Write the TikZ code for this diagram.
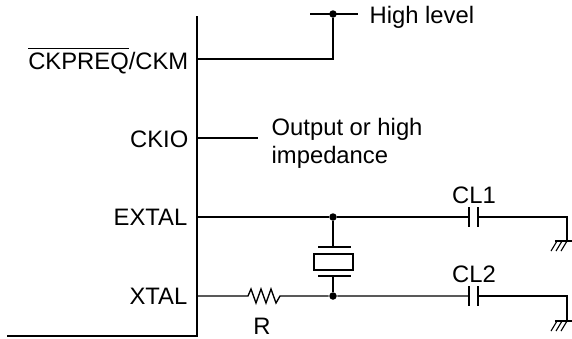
\documentclass[tikz,border=0pt]{standalone}
\usepackage{fontspec}
\setmainfont{Liberation Sans}
\newcommand\myovl[1]{\leavevmode\vbox{\hrule height 1.2pt\kern 3.6pt\hbox{#1}}}
\begin{document}
\begin{tikzpicture}[x=1pt,y=-1pt,line width=1.35pt,
  lbl/.style={font=\fontsize{23.8}{28}\selectfont,inner sep=0pt},
  jdot/.style={circle,fill,inner sep=0pt,minimum size=7.5pt},
  gndpic/.pic={
    \draw (-12,0) -- (5,0);
    \foreach \dx in {-10,-5,0} {\draw[line width=1.1pt] (\dx,0) -- (\dx-6,10);}
  }]
\useasboundingbox (0,0) rectangle (572,338);
% chip outline
\coordinate (chiptop) at (197,16);
\coordinate (chipcorner) at (197,336);
\coordinate (chipleft) at (7,336);
\draw (chiptop) -- (chipcorner) -- (chipleft);
% pins
\coordinate (pCKM) at (197,59);
\coordinate (pCKIO) at (197,138);
\coordinate (pEX) at (197,217);
\coordinate (pXT) at (197,296);
% labels
\node[lbl,anchor=base east] (tCKM) at (189,69) {\myovl{CKPREQ}/CKM};
\node[lbl,anchor=base east] (tCKIO) at (189,147) {CKIO};
\node[lbl,anchor=base east] (tEX) at (188,225.5) {EXTAL};
\node[lbl,anchor=base east] (tXT) at (188,304.5) {XTAL};
% high level
\node[jdot] (hdot) at (333,14) {};
\coordinate (hL) at (310,14);
\coordinate (hR) at (358,14);
\draw (hL) -- (hR);
\draw (pCKM) -| (hdot);
\node[lbl,anchor=base west] (tHigh) at (369,23) {High level};
% CKIO
\coordinate (ckioEnd) at (258,138);
\draw (pCKIO) -- (ckioEnd);
\node[lbl,anchor=base west] (tOut1) at (271,135) {Output or high};
\node[lbl,anchor=base west] (tOut2) at (271,163) {impedance};
% EXTAL row
\node[jdot] (jEX) at (333,217) {};
\coordinate (c1L) at (469,217);
\coordinate (c1R) at (478,217);
\coordinate (g1) at (567,241);
\draw (pEX) -- (jEX) -- (c1L);
\draw (469,207) -- (469,227);
\draw (478,207) -- (478,227);
\draw (c1R) -| (g1);
\pic at (g1) {gndpic};
\node[lbl,anchor=base] (tCL1) at (474,203) {CL1};
% XTAL row
\node[jdot] (jXT) at (333,296) {};
\coordinate (rL) at (248,296);
\coordinate (rR) at (280,296);
\coordinate (c2L) at (469,296);
\coordinate (c2R) at (478,296);
\coordinate (g2) at (567,321);
\draw (pXT) -- (rL) -- (251,289) -- (256,303) -- (261,289) -- (266,303) -- (271,289) -- (276,303) -- (rR) -- (jXT) -- (c2L);
\draw (469,286) -- (469,306);
\draw (478,286) -- (478,306);
\draw (c2R) -| (g2);
\pic at (g2) {gndpic};
\node[lbl,anchor=base] (tCL2) at (474,282) {CL2};
\node[lbl,anchor=base] (tR) at (262,334) {R};
% crystal
\coordinate (xT) at (333,247);
\coordinate (xB) at (333,276);
\draw (jEX) -- (xT);
\draw (318,247) -- (351,247);
\draw (314,254) rectangle (353,270);
\draw (318,276) -- (351,276);
\draw (xB) -- (jXT);
\end{tikzpicture}
\end{document}
